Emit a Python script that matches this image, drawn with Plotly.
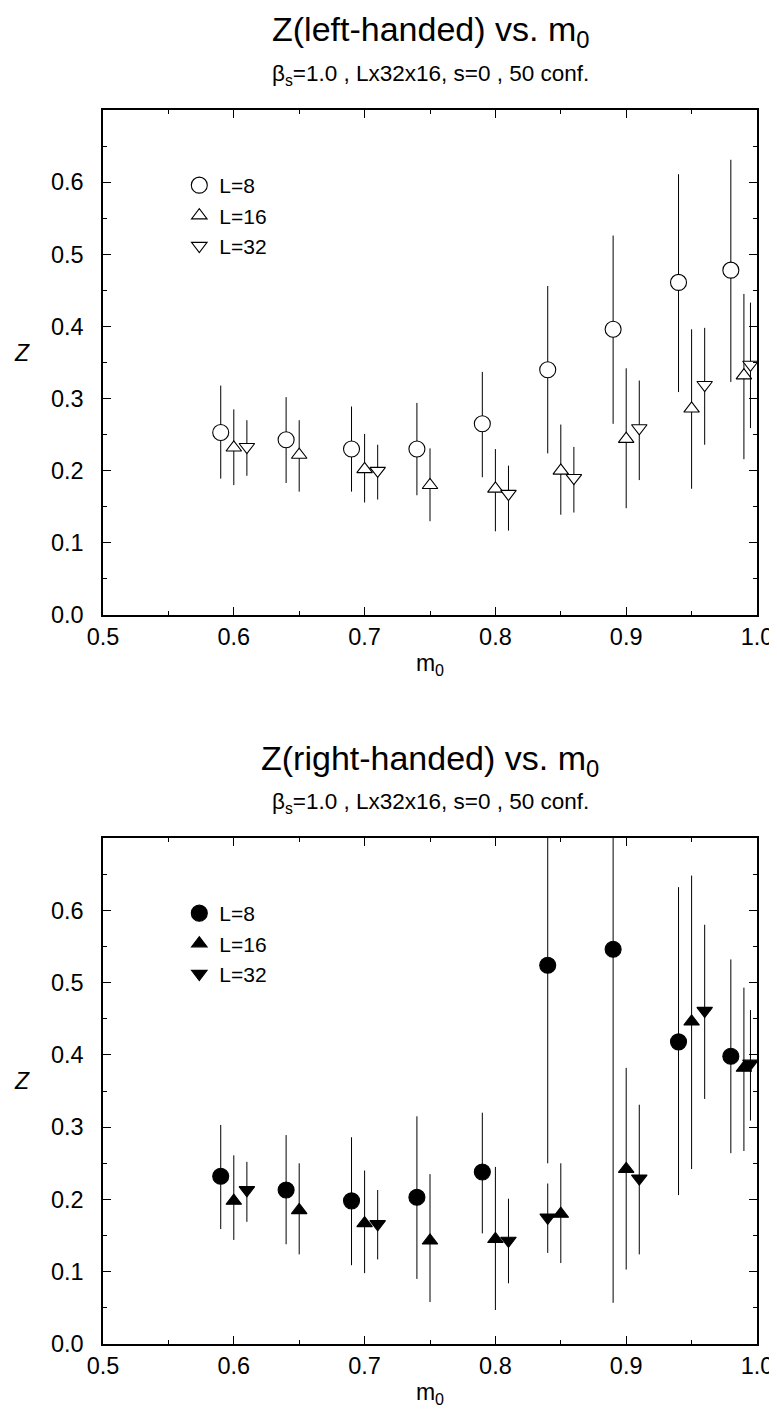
import plotly.graph_objects as go

# ---------------- data: left-handed (top panel) ----------------
lh_L8_m0 = [0.59, 0.64, 0.69, 0.74, 0.79, 0.84, 0.89, 0.94, 0.98]
lh_L8_z = [0.253, 0.243, 0.230, 0.230, 0.265, 0.340, 0.396, 0.461, 0.478]
lh_L8_hi = [0.318, 0.302, 0.289, 0.294, 0.337, 0.456, 0.526, 0.611, 0.631]
lh_L8_lo = [0.189, 0.183, 0.171, 0.166, 0.191, 0.224, 0.265, 0.309, 0.323]

lh_L16_m0 = [0.60, 0.65, 0.70, 0.75, 0.80, 0.85, 0.90, 0.95, 0.99]
lh_L16_z = [0.232, 0.222, 0.202, 0.180, 0.175, 0.200, 0.244, 0.286, 0.332]
lh_L16_hi = [0.285, 0.270, 0.251, 0.231, 0.230, 0.264, 0.342, 0.396, 0.445]
lh_L16_lo = [0.180, 0.171, 0.156, 0.130, 0.116, 0.139, 0.148, 0.175, 0.216]

lh_L32_m0 = [0.61, 0.71, 0.81, 0.86, 0.91, 0.96, 0.995]
lh_L32_z = [0.233, 0.200, 0.168, 0.190, 0.259, 0.319, 0.347]
lh_L32_hi = [0.270, 0.236, 0.207, 0.233, 0.325, 0.398, 0.433]
lh_L32_lo = [0.193, 0.160, 0.117, 0.142, 0.187, 0.236, 0.259]

# ---------------- data: right-handed (bottom panel) ----------------
rh_L8_m0 = [0.59, 0.64, 0.69, 0.74, 0.79, 0.84, 0.89, 0.94, 0.98]
rh_L8_z = [0.232, 0.213, 0.198, 0.203, 0.238, 0.524, 0.546, 0.418, 0.398]
rh_L8_hi = [0.303, 0.289, 0.286, 0.315, 0.320, 0.798, 1.035, 0.632, 0.532]
rh_L8_lo = [0.159, 0.138, 0.109, 0.090, 0.153, 0.250, 0.057, 0.206, 0.264]

rh_L16_m0 = [0.60, 0.65, 0.70, 0.75, 0.80, 0.85, 0.90, 0.95, 0.99]
rh_L16_z = [0.198, 0.185, 0.167, 0.143, 0.145, 0.180, 0.242, 0.446, 0.382]
rh_L16_hi = [0.261, 0.250, 0.240, 0.235, 0.245, 0.250, 0.382, 0.648, 0.493]
rh_L16_lo = [0.144, 0.124, 0.098, 0.058, 0.047, 0.112, 0.103, 0.242, 0.267]

rh_L32_m0 = [0.61, 0.71, 0.81, 0.84, 0.91, 0.96, 0.995]
rh_L32_z = [0.213, 0.166, 0.143, 0.175, 0.229, 0.461, 0.388]
rh_L32_hi = [0.252, 0.213, 0.201, 0.222, 0.331, 0.580, 0.462]
rh_L32_lo = [0.169, 0.117, 0.084, 0.126, 0.124, 0.339, 0.309]

series_names = ["L=8", "L=16", "L=32"]
titles = ["Z(left-handed) vs. m<sub>0</sub>", "Z(right-handed) vs. m<sub>0</sub>"]
subtitle = "\u03b2<sub>s</sub>=1.0 , Lx32x16, s=0 , 50 conf."
x_ticks = [0.5, 0.6, 0.7, 0.8, 0.9, 1.0]
y_ticks = [0.0, 0.1, 0.2, 0.3, 0.4, 0.5, 0.6]

FONT = "Liberation Sans, Arial, Helvetica, sans-serif"
W, H = 777, 1412
ML, MR, MT, MB = 95, 22, 102, 76
PLOT_W = W - ML - MR
PLOT_H = H - MT - MB


def py(px):
    """pixel row -> paper y"""
    return (H - MB - px) / PLOT_H


def pxx(px):
    """pixel column -> paper x"""
    return (px - ML) / PLOT_W


top_frame = (102, 607)
bot_frame = (830, 1336)

fig = go.Figure()


def add_series(xs, ys, his, los, name, symbol, size, fill, xa, ya, leg, clip):
    fig.add_trace(go.Scatter(
        x=xs, y=ys, mode="markers", name=name,
        xaxis=xa, yaxis=ya, legend=leg, cliponaxis=clip,
        marker=dict(symbol=symbol, size=size, color=fill,
                    line=dict(color="black", width=1.1)),
        error_y=dict(type="data", symmetric=False,
                     array=[h - v for h, v in zip(his, ys)],
                     arrayminus=[v - l for v, l in zip(ys, los)],
                     width=0, thickness=1, color="black"),
    ))


# top panel: open markers
add_series(lh_L8_m0, lh_L8_z, lh_L8_hi, lh_L8_lo, series_names[0], "circle", 16, "white", "x", "y", "legend", True)
add_series(lh_L16_m0, lh_L16_z, lh_L16_hi, lh_L16_lo, series_names[1], "triangle-up", 13.5, "white", "x", "y", "legend", False)
add_series(lh_L32_m0, lh_L32_z, lh_L32_hi, lh_L32_lo, series_names[2], "triangle-down", 13.5, "white", "x", "y", "legend", False)
# bottom panel: filled markers
add_series(rh_L8_m0, rh_L8_z, rh_L8_hi, rh_L8_lo, series_names[0], "circle", 16, "black", "x2", "y2", "legend2", True)
add_series(rh_L16_m0, rh_L16_z, rh_L16_hi, rh_L16_lo, series_names[1], "triangle-up", 13.5, "black", "x2", "y2", "legend2", False)
add_series(rh_L32_m0, rh_L32_z, rh_L32_hi, rh_L32_lo, series_names[2], "triangle-down", 13.5, "black", "x2", "y2", "legend2", False)

axis_common = dict(
    showgrid=False, zeroline=False, showline=True, linecolor="black", linewidth=1.5,
    mirror="ticks", ticks="inside", ticklen=8, tickwidth=1, tickcolor="black",
    tickfont=dict(family=FONT, size=23.5, color="black"),
    tickformat=".1f",
    minor=dict(dtick=0.05, ticks="inside", ticklen=4.5, tickwidth=1, tickcolor="black"),
)

xaxis = dict(axis_common, range=[0.5, 1.0], tickmode="array", tickvals=x_ticks,
             ticklabelstandoff=0,
             title=dict(text="m<sub>0</sub>", font=dict(family=FONT, size=23, color="black"), standoff=6))
yaxis = dict(axis_common, range=[0.0, 0.7], tickmode="array", tickvals=y_ticks,
             ticklabelstandoff=13)

legend_common = dict(xanchor="left", yanchor="top",
                     font=dict(family=FONT, size=21, color="black"),
                     bgcolor="rgba(0,0,0,0)", tracegroupgap=0, itemsizing="trace")

fig.update_layout(
    width=W, height=H,
    margin=dict(l=ML, r=MR, t=MT, b=MB, pad=0),
    paper_bgcolor="white", plot_bgcolor="white",
    font=dict(family=FONT, color="black"),
    xaxis=dict(xaxis, domain=[0, 1], anchor="y"),
    yaxis=dict(yaxis, domain=[py(top_frame[1]), py(top_frame[0])], anchor="x"),
    xaxis2=dict(xaxis, domain=[0, 1], anchor="y2"),
    yaxis2=dict(yaxis, domain=[py(bot_frame[1]), py(bot_frame[0])], anchor="x2"),
    legend=dict(legend_common, x=pxx(172), y=py(157)),
    legend2=dict(legend_common, x=pxx(172), y=py(157 + bot_frame[0] - top_frame[0])),
    showlegend=True,
)

annotations = []
for frame, title in zip([top_frame, bot_frame], titles):
    annotations.append(dict(text=title, xref="paper", yref="paper", x=0.5,
                            y=py(frame[0] - 78), xanchor="center", yanchor="middle",
                            showarrow=False, font=dict(family=FONT, size=34, color="black")))
    annotations.append(dict(text=subtitle, xref="paper", yref="paper", x=0.5,
                            y=py(frame[0] - 35), xanchor="center", yanchor="middle",
                            showarrow=False, font=dict(family=FONT, size=22.5, color="black")))
    annotations.append(dict(text="<i>Z</i>", xref="paper", yref="paper",
                            x=pxx(13), y=py(frame[0] + 243),
                            xanchor="center", yanchor="middle",
                            showarrow=False, font=dict(family=FONT, size=23, color="black")))
fig.update_layout(annotations=annotations)

fig.write_html("out.html")
